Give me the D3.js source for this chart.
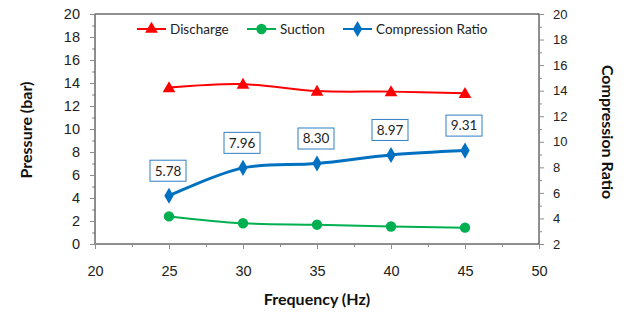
<!DOCTYPE html>
<html>
<head>
<meta charset="utf-8">
<script src="https://cdn.jsdelivr.net/npm/d3@7"></script>
<style>
  body { margin: 0; background: #fff; }
  svg { font-family: Lato, "Open Sans", sans-serif; }
  .tick text { fill: #222; font-size: 14px; }
  .axtitle { font-weight: bold; font-size: 16px; fill: #111; }
</style>
</head>
<body>
<svg id="chart" width="626" height="315"></svg>
<script>
// chart values
const frequency = [25, 30, 35, 40, 45];
const discharge = [13.6, 13.9, 13.3, 13.25, 13.1];
const suction = [2.4, 1.8, 1.68, 1.52, 1.42];
const compressionRatio = [5.78, 7.96, 8.30, 8.97, 9.31];
const xTicks = [20, 25, 30, 35, 40, 45, 50];
const leftTicks = [0, 2, 4, 6, 8, 10, 12, 14, 16, 18, 20];
const rightTicks = [2, 4, 6, 8, 10, 12, 14, 16, 18, 20];

const svg = d3.select("#chart");
const plot = {left: 95, right: 539, top: 14, bottom: 244};

let x = d3.scaleLinear().domain([20, 50]).range([plot.left, plot.right]);
let yL = d3.scaleLinear().domain([0, 20]).range([plot.bottom, plot.top]);
let yR = d3.scaleLinear().domain([2, 20]).range([plot.bottom, plot.top]);

const axisGray = "#8c8c8c";

// minor ticks first
svg.append("g")
    .attr("transform", "translate(" + plot.left + ",0)")
    .call(d3.axisLeft(yL).tickValues(d3.range(1, 20, 2)).tickSize(3).tickFormat(""))
    .call(g => g.select(".domain").remove())
    .selectAll("line").attr("stroke", axisGray);
svg.append("g")
    .attr("transform", "translate(" + plot.right + ",0)")
    .call(d3.axisRight(yR).tickValues(d3.range(3, 20, 2)).tickSize(3).tickFormat(""))
    .call(g => g.select(".domain").remove())
    .selectAll("line").attr("stroke", axisGray);
svg.append("g")
    .attr("transform", "translate(0," + plot.bottom + ")")
    .call(d3.axisBottom(x).tickValues(d3.range(22.5, 50, 5)).tickSize(3).tickFormat(""))
    .call(g => g.select(".domain").remove())
    .selectAll("line").attr("stroke", axisGray);

// plot frame
svg.append("rect")
    .attr("x", plot.left).attr("y", plot.top)
    .attr("width", plot.right - plot.left).attr("height", plot.bottom - plot.top)
    .attr("fill", "none").attr("stroke", "#222").attr("stroke-width", 1);

let gL = svg.append("g")
    .attr("transform", "translate(" + plot.left + ",0)")
    .call(d3.axisLeft(yL).tickValues(leftTicks).tickSize(5).tickPadding(10));
let gR = svg.append("g")
    .attr("transform", "translate(" + plot.right + ",0)")
    .call(d3.axisRight(yR).tickValues(rightTicks).tickSize(5).tickPadding(9));
let gX = svg.append("g")
    .attr("transform", "translate(0," + plot.bottom + ")")
    .call(d3.axisBottom(x).tickValues(xTicks).tickSize(5).tickPadding(17));
[gL, gR, gX].forEach(g => {
    g.select(".domain").attr("stroke", axisGray);
    g.selectAll(".tick line").attr("stroke", axisGray);
    g.selectAll(".tick text").style("font-size", "14.5px");
});
gR.selectAll(".tick text").style("font-size", "13px");

// axis titles
svg.append("text").classed("axtitle", true)
    .attr("x", 317).attr("y", 305).attr("text-anchor", "middle")
    .text("Frequency (Hz)");
svg.append("text").classed("axtitle", true)
    .attr("transform", "translate(32,130) rotate(-90)")
    .attr("text-anchor", "middle")
    .text("Pressure (bar)");
svg.append("text").classed("axtitle", true)
    .attr("transform", "translate(602,132) rotate(90)")
    .attr("text-anchor", "middle")
    .text("Compression Ratio");

const curve = d3.curveCatmullRom.alpha(0.5);

const series = [
    {name: "Discharge", values: discharge, y: yL, color: "#ff0000", marker: "triangle", width: 2},
    {name: "Suction", values: suction, y: yL, color: "#00b050", marker: "circle", width: 2},
    {name: "Compression Ratio", values: compressionRatio, y: yR, color: "#0070c0", marker: "diamond", width: 3}
];

function markerPath(type) {
    if (type === "triangle") return d3.symbol().type(d3.symbolTriangle).size(70)();
    if (type === "circle") return d3.symbol().type(d3.symbolCircle).size(85)();
    return d3.symbol().type(d3.symbolDiamond).size(75)();
}

series.forEach(s => {
    let pts = frequency.map((f, i) => [f, s.values[i]]);
    let line = d3.line().x(d => x(d[0])).y(d => s.y(d[1])).curve(curve);
    svg.append("path")
        .attr("d", line(pts))
        .attr("fill", "none")
        .attr("stroke", s.color)
        .attr("stroke-width", s.width);
    svg.append("g").selectAll("path")
        .data(pts)
        .enter().append("path")
        .attr("d", markerPath(s.marker))
        .attr("transform", d => "translate(" + x(d[0]) + "," + (s.y(d[1]) + (s.marker === "triangle" ? 1 : 0)) + ")")
        .attr("fill", s.color);
});

// data labels for compression ratio
let labels = svg.append("g").selectAll("g")
    .data(frequency.map((f, i) => [f, compressionRatio[i]]))
    .enter().append("g")
    .attr("transform", d => "translate(" + (x(d[0]) - 1) + "," + (yR(d[1]) - 25) + ")");
labels.append("rect")
    .attr("x", -18).attr("y", -10.5)
    .attr("width", 36).attr("height", 21)
    .attr("fill", "#fff")
    .attr("stroke", "#2e7fc4").attr("stroke-width", 1);
labels.append("text")
    .attr("text-anchor", "middle")
    .attr("dy", "0.36em")
    .style("font-size", "13.5px")
    .attr("fill", "#222")
    .text(d => d[1].toFixed(2));

// legend
const legendX = [137, 247, 343];
let legend = svg.append("g").selectAll("g")
    .data(series)
    .enter().append("g")
    .attr("transform", (d, i) => "translate(" + legendX[i] + ",29)");
legend.append("line")
    .attr("x1", 0).attr("x2", 29)
    .attr("stroke", d => d.color)
    .attr("stroke-width", 2);
legend.append("path")
    .attr("d", d => markerPath(d.marker))
    .attr("transform", "translate(14.5,0)")
    .attr("fill", d => d.color);
legend.append("text")
    .attr("x", 33).attr("dy", "0.35em")
    .style("font-size", "13.5px")
    .attr("fill", "#222")
    .text(d => d.name);
</script>
</body>
</html>
